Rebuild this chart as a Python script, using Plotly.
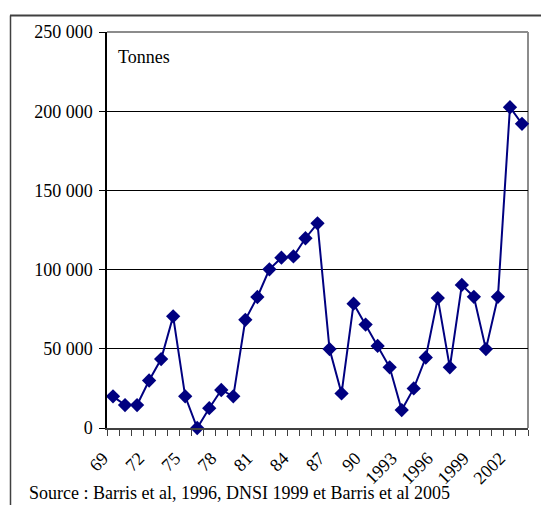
import plotly.graph_objects as go

# Annual production, 1969-2003 (tonnes)
years = list(range(1969, 2004))
tonnes = [
    20000, 14500, 14500, 30000, 43500, 70500, 20000, 0, 12500, 24000,
    20000, 68300, 82700, 100200, 107500, 108300, 119800, 129200, 49800, 21800,
    78500, 65300, 51800, 38300, 11300, 25000, 44500, 82000, 38300, 90300,
    82800, 49800, 82800, 202500, 192000,
]

# Category labels shown every third year
label_years = [1969, 1972, 1975, 1978, 1981, 1984, 1987, 1990, 1993, 1996, 1999, 2002]
label_text = ["69", "72", "75", "78", "81", "84", "87", "90", "1993", "1996", "1999", "2002"]

y_ticks = [0, 50000, 100000, 150000, 200000, 250000]
y_text = ["0", "50 000", "100 000", "150 000", "200 000", "250 000"]

NAVY = "#000080"
FONT = "Liberation Serif"
FS = 18

fig = go.Figure(
    go.Scatter(
        x=years,
        y=tonnes,
        mode="lines+markers",
        line=dict(color=NAVY, width=2),
        marker=dict(symbol="diamond", size=11, color=NAVY),
        cliponaxis=False,
        showlegend=False,
    )
)

W, H = 541, 505
ML, MR, MT, MB = 107, 13, 32, 77
pw, ph = W - ML - MR, H - MT - MB


def px_x(p):
    return (p - ML) / pw


def px_y(p):
    return (H - MB - p) / ph


fig.update_layout(
    width=W,
    height=H,
    margin=dict(l=ML, r=MR, t=MT, b=MB),
    paper_bgcolor="white",
    plot_bgcolor="white",
    font=dict(family=FONT, size=FS, color="black"),
    xaxis=dict(
        range=[1968.5, 2003.5],
        tickmode="array",
        tickvals=label_years,
        ticktext=label_text,
        tickangle=-45,
        ticks="",
        showgrid=False,
        zeroline=False,
        showline=True,
        linecolor="#404040",
        linewidth=1.5,
        tickfont=dict(family=FONT, size=FS, color="black"),
        ticklabelstandoff=11,
        ticklabelshift=-10,
        minor=dict(
            tickmode="linear",
            tick0=1968.5,
            dtick=1,
            ticks="outside",
            ticklen=6,
            tickcolor="#404040",
            showgrid=False,
        ),
    ),
    yaxis=dict(
        range=[0, 250000],
        tickmode="array",
        tickvals=y_ticks,
        ticktext=y_text,
        ticks="outside",
        ticklen=6,
        tickcolor="black",
        showgrid=True,
        gridcolor="black",
        gridwidth=1,
        zeroline=False,
        showline=True,
        linecolor="black",
        linewidth=1.5,
        tickfont=dict(family=FONT, size=FS, color="black"),
        ticklabelstandoff=3,
    ),
    shapes=[
        # grey plot-area border on top and right
        dict(type="line", xref="paper", yref="paper", x0=0, x1=1, y0=1, y1=1,
             line=dict(color="#8c8c8c", width=2), layer="above"),
        dict(type="line", xref="paper", yref="paper", x0=1, x1=1, y0=0, y1=1,
             line=dict(color="#8c8c8c", width=2), layer="between"),
        # outer chart frame
        dict(type="line", xref="paper", yref="paper",
             x0=px_x(10), x1=px_x(541), y0=px_y(15.5), y1=px_y(15.5),
             line=dict(color="#404040", width=2)),
        dict(type="line", xref="paper", yref="paper",
             x0=px_x(10.5), x1=px_x(10.5), y0=px_y(15.5), y1=px_y(505),
             line=dict(color="#404040", width=1.5)),
    ],
    annotations=[
        dict(text="Tonnes", xref="paper", yref="paper", x=px_x(116), y=px_y(57),
             xanchor="left", yanchor="middle", showarrow=False,
             font=dict(family=FONT, size=FS, color="black")),
        dict(text="Source : Barris et al, 1996, DNSI 1999 et Barris et al 2005",
             xref="paper", yref="paper", x=px_x(27), y=px_y(493),
             xanchor="left", yanchor="middle", showarrow=False,
             font=dict(family=FONT, size=FS, color="black")),
    ],
)

fig.write_html("out.html")
